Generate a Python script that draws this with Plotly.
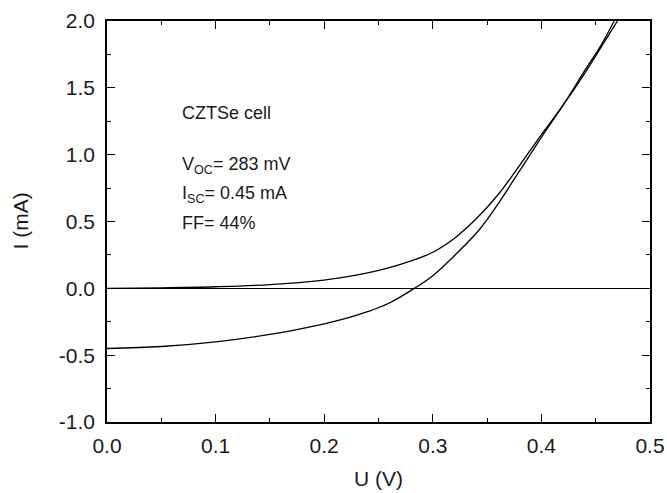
import plotly.graph_objects as go

# Light I-V curve (illuminated)
u_light = [0.0, 0.05, 0.10, 0.15, 0.20, 0.22, 0.24, 0.26, 0.283, 0.30, 0.32, 0.343,
           0.36, 0.38, 0.40, 0.42, 0.44, 0.455, 0.467]
i_light = [-0.45, -0.435, -0.40, -0.345, -0.265, -0.225, -0.175, -0.11, 0.0, 0.095, 0.245, 0.44,
           0.63, 0.88, 1.13, 1.37, 1.63, 1.82, 2.0]

# Dark I-V curve
u_dark = [0.0, 0.05, 0.10, 0.15, 0.20, 0.22, 0.24, 0.26, 0.28, 0.30, 0.32, 0.34,
          0.36, 0.38, 0.40, 0.42, 0.44, 0.46, 0.47]
i_dark = [0.0, 0.004, 0.012, 0.028, 0.062, 0.085, 0.115, 0.155, 0.205, 0.27, 0.375, 0.52,
          0.70, 0.92, 1.15, 1.37, 1.61, 1.87, 2.0]

x_ticks = [0.0, 0.1, 0.2, 0.3, 0.4, 0.5]
x_labels = ["0.0", "0.1", "0.2", "0.3", "0.4", "0.5"]
y_ticks = [-1.0, -0.5, 0.0, 0.5, 1.0, 1.5, 2.0]
y_labels = ["-1.0", "-0.5", "0.0", "0.5", "1.0", "1.5", "2.0"]

FONT = "Liberation Sans, Arial, sans-serif"
TXT = "#1a1a1a"

fig = go.Figure()
fig.add_trace(go.Scatter(x=u_dark, y=i_dark, mode="lines",
                         line=dict(color="black", width=1.3, shape="spline", smoothing=1.0),
                         showlegend=False, hoverinfo="skip"))
fig.add_trace(go.Scatter(x=u_light, y=i_light, mode="lines",
                         line=dict(color="black", width=1.3, shape="spline", smoothing=1.0),
                         showlegend=False, hoverinfo="skip"))

axis_common = dict(
    showline=True, linecolor="black", linewidth=1.5, mirror="allticks",
    ticks="inside", ticklen=8, tickwidth=1.2, tickcolor="black",
    showgrid=False, automargin=False,
    tickfont=dict(family=FONT, size=21, color=TXT),
)

fig.update_xaxes(range=[0, 0.5], tickmode="array", tickvals=x_ticks, ticktext=x_labels,
                 minor=dict(dtick=0.05, ticks="inside", ticklen=4, tickcolor="black", tickwidth=1.2),
                 zeroline=False, ticklabelstandoff=4,
                 **axis_common)
fig.update_yaxes(range=[-1.0, 2.0], tickmode="array", tickvals=y_ticks, ticktext=y_labels,
                 minor=dict(dtick=0.25, ticks="inside", ticklen=4, tickcolor="black", tickwidth=1.2),
                 zeroline=True, zerolinecolor="black", zerolinewidth=1.3, ticklabelstandoff=6,
                 **axis_common)

title_font = dict(family=FONT, size=21, color=TXT)
fig.add_annotation(x=0.5, y=0, xref="paper", yref="paper", text="U (V)", showarrow=False,
                   xanchor="center", yanchor="middle", yshift=-56, font=title_font)
fig.add_annotation(x=0, y=0.5, xref="paper", yref="paper", text="I (mA)", showarrow=False,
                   textangle=-90, xanchor="center", yanchor="middle", xshift=-87, font=title_font)

ann_font = dict(family=FONT, size=18, color=TXT)
fig.add_annotation(x=0.0675, y=1.31, xref="x", yref="y", text="CZTSe cell", showarrow=False,
                   xanchor="left", yanchor="middle", font=ann_font)
fig.add_annotation(x=0.0675, y=0.92, xref="x", yref="y", text="V<sub>OC</sub>= 283 mV", showarrow=False,
                   xanchor="left", yanchor="middle", font=ann_font)
fig.add_annotation(x=0.0675, y=0.70, xref="x", yref="y", text="I<sub>SC</sub>= 0.45 mA", showarrow=False,
                   xanchor="left", yanchor="middle", font=ann_font)
fig.add_annotation(x=0.0675, y=0.486, xref="x", yref="y", text="FF= 44%", showarrow=False,
                   xanchor="left", yanchor="middle", font=ann_font)

fig.update_layout(
    width=667, height=493,
    margin=dict(l=107, r=17, t=21, b=71),
    paper_bgcolor="white", plot_bgcolor="white",
    showlegend=False,
)

fig.write_html("out.html", config={"displayModeBar": False},
               post_script="document.body.style.margin='0';document.body.style.overflow='hidden';")
